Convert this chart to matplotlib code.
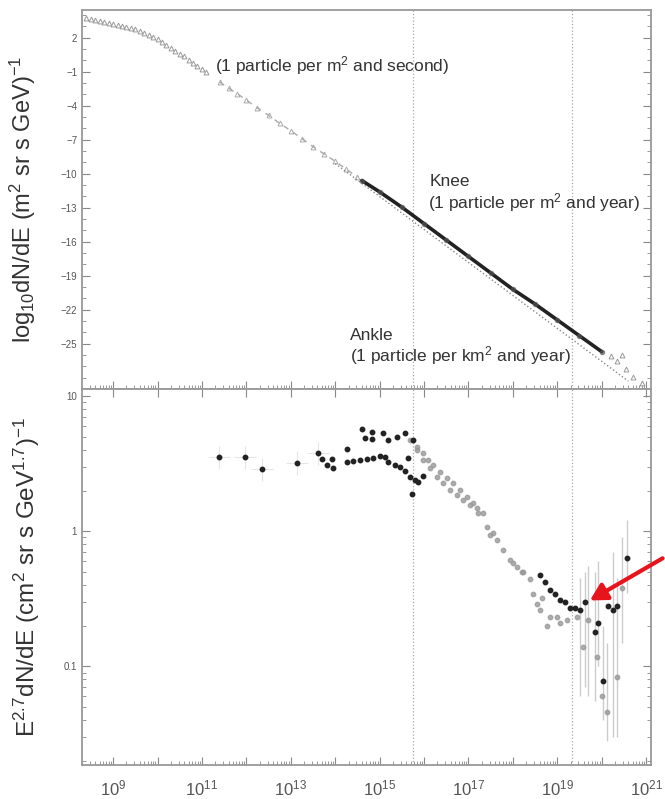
from matplotlib import pyplot as plt
from matplotlib.ticker import LogLocator, FixedLocator, NullFormatter, FuncFormatter
import numpy as np

plt.rcParams['font.family'] = ['Liberation Sans', 'DejaVu Sans']
plt.rcParams['mathtext.default'] = 'regular'

# ---- top panel: log10 flux vs log10 energy (eV) ----
low_logE = [8.4, 8.5, 8.6, 8.7, 8.8, 8.9, 9.0, 9.1, 9.2, 9.3, 9.4, 9.5, 9.6, 9.7,
            9.8, 9.9, 10.0, 10.1, 10.2, 10.3, 10.4, 10.5, 10.6, 10.7, 10.8,
            10.9, 11.0, 11.1]
low_flux = [3.75, 3.68, 3.6, 3.5, 3.42, 3.33, 3.22, 3.12, 3.02, 2.95, 2.9, 2.78,
            2.6, 2.45, 2.25, 2.05, 1.85, 1.6, 1.35, 1.1, 0.85, 0.6, 0.35, 0.08,
            -0.2, -0.48, -0.75, -1.05]

mid_logE = [11.4, 11.6, 11.8, 12.0, 12.25, 12.5, 12.75, 13.0, 13.25, 13.5,
            13.75, 14.0, 14.25, 14.5]
mid_flux = [-1.9, -2.45, -2.95, -3.5, -4.2, -4.85, -5.55, -6.2, -6.9, -7.6,
            -8.25, -8.9, -9.6, -10.3]

band_logE = [14.6, 15.0, 15.5, 16.0, 16.5, 17.0, 17.5, 18.0, 18.5, 19.0, 19.5, 20.0]
band_flux = [-10.6, -11.6, -12.95, -14.4, -15.85, -17.3, -18.75, -20.2, -21.5,
             -22.9, -24.3, -25.7]

tail_logE = [20.2, 20.35, 20.45, 20.55, 20.7, 20.9]
tail_flux = [-26.1, -26.5, -26.0, -27.2, -27.9, -28.5]

ref_logE = [14.0, 20.6]
ref_flux = [-9.1, -28.3]

# ---- bottom panel: E^2.7 dN/dE ----
dark_logE = [11.39, 11.97, 12.36, 13.14, 13.62, 13.71, 13.82, 13.96, 13.93,
             14.27, 14.27, 14.41, 14.56, 14.72, 14.86, 15.01, 15.13, 15.19,
             15.35, 15.46, 15.58, 15.69, 15.8, 15.87, 15.73, 15.98,
             14.61, 14.83, 14.68, 14.83, 15.08, 15.4, 15.58, 15.76, 15.64, 15.19,
             18.62, 18.73, 18.84, 18.95, 19.07, 19.18, 19.29, 19.41, 19.52,
             19.63, 19.92, 19.86, 20.15, 20.26, 20.35, 20.58, 20.04]
dark_val = [3.53, 3.53, 2.88, 3.19, 3.78, 3.42, 3.08, 2.93, 3.4,
            4.06, 3.25, 3.31, 3.35, 3.4, 3.5, 3.6, 3.53, 3.25,
            3.08, 2.98, 2.78, 2.51, 2.39, 2.32, 1.9, 2.56,
            5.7, 5.4, 4.9, 4.8, 5.3, 5.0, 5.3, 4.72, 3.5, 4.72,
            0.47, 0.42, 0.37, 0.34, 0.31, 0.30, 0.27, 0.27, 0.26,
            0.30, 0.21, 0.18, 0.28, 0.26, 0.28, 0.63, 0.078]

gray_logE = [15.85, 15.98, 16.1, 16.2, 16.36, 16.52, 16.66, 16.82, 16.97, 17.11,
             17.22, 15.69, 15.85, 15.98, 16.14, 16.3, 16.43, 16.59, 16.75, 16.88,
             17.04, 17.2, 17.33, 17.42, 17.56, 17.65, 17.78, 17.94, 18.1, 18.23,
             18.39, 17.49, 18.0, 18.21, 19.7, 20.46, 20.01, 19.9, 19.59, 20.13,
             20.35, 18.62, 18.84, 19.0, 18.77, 19.07, 19.22, 19.45, 18.55, 18.46,
             18.66]
gray_val = [4.2, 3.8, 3.35, 3.08, 2.73, 2.47, 2.27, 2.01, 1.8, 1.62,
            1.36, 4.72, 3.98, 3.35, 2.93, 2.51, 2.27, 2.01, 1.85, 1.7,
            1.56, 1.48, 1.36, 1.07, 0.97, 0.86, 0.72, 0.61, 0.54, 0.5,
            0.44, 0.93, 0.58, 0.5, 0.22, 0.38, 0.06, 0.117, 0.138, 0.046,
            0.083, 0.26, 0.23, 0.23, 0.2, 0.21, 0.22, 0.23, 0.29, 0.34,
            0.32]

# faint error crosses around the low-energy points
cross_logE = [11.39, 11.97, 12.36, 13.14, 13.62]
cross_val = [3.53, 3.53, 2.88, 3.19, 3.78]
cross_low = [2.9, 2.9, 2.35, 2.6, 3.1]
cross_high = [4.3, 4.3, 3.5, 3.9, 4.6]

# error bars on the highest energy points
err_logE = [19.52, 19.63, 19.7, 19.86, 19.92, 20.04, 20.13, 20.26, 20.35, 20.46, 20.58]
err_val = [0.26, 0.30, 0.22, 0.18, 0.21, 0.078, 0.046, 0.26, 0.083, 0.38, 0.63]
err_low = [0.06, 0.07, 0.06, 0.055, 0.1, 0.04, 0.028, 0.03, 0.03, 0.15, 0.35]
err_high = [0.45, 0.5, 0.55, 0.5, 0.6, 0.2, 0.15, 0.7, 0.45, 0.9, 1.2]

knee_logE = 15.76
ankle_logE = 19.34

xticks_exp = [9, 11, 13, 15, 17, 19, 21]

fig = plt.figure(figsize=(6.65, 7.99), dpi=100)
ax1 = fig.add_axes([0.1233, 0.5131, 0.8556, 0.4744])
ax2 = fig.add_axes([0.1233, 0.0426, 0.8556, 0.4705])

E = lambda lst: [10.0 ** v for v in lst]
frame_c = '#999999'
for ax in (ax1, ax2):
    ax.set_xscale('log')
    for s in ax.spines.values():
        s.set_color(frame_c)
        s.set_linewidth(1.3)
    ax.axvline(10 ** knee_logE, color='#aaaaaa', ls=':', lw=0.9)
    ax.axvline(10 ** ankle_logE, color='#aaaaaa', ls=':', lw=0.9)
    ax.xaxis.set_major_locator(FixedLocator([10.0 ** e for e in range(9, 22)]))
    ax.xaxis.set_minor_locator(LogLocator(base=10, subs=np.arange(2, 10), numticks=100))
    ax.tick_params(which='both', direction='in', color='#888888', labelcolor='#555555',
                   right=True)
    ax.tick_params(which='major', length=6)
    ax.tick_params(which='minor', length=3)

# top panel
ax1.plot(E(low_logE), low_flux, ls='none', marker='^', ms=3.5, mfc='none',
         mec='#999999', mew=0.7)
ax1.plot(E(mid_logE), mid_flux, ls='--', color='#aaaaaa', lw=1.0,
         marker='^', ms=3.5, mfc='none', mec='#aaaaaa', mew=0.7, dashes=(4, 4))
ax1.plot(E(ref_logE), ref_flux, ls=':', color='#888888', lw=1.0)
ax1.plot(E(band_logE), band_flux, color='#222222', lw=2.6, solid_capstyle='round')
ax1.plot(E(band_logE), band_flux, ls='none', marker='o', ms=3, color='#555555', alpha=0.6)
ax1.plot(E(tail_logE), tail_flux, ls='none', marker='^', ms=3.5, mfc='none',
         mec='#999999', mew=0.7)

ax1.set_ylim(-29, 4.45)
ax1.yaxis.set_major_locator(FixedLocator(np.arange(-25, 3, 3)))
ax1.yaxis.set_minor_locator(FixedLocator(np.arange(-28, 5, 1)))
ax1.tick_params(axis='y', labelsize=7)
ax1.tick_params(axis='x', top=False, labelbottom=False)
ax1.set_ylabel('log$_{10}$dN/dE (m$^2$ sr s GeV)$^{-1}$', fontsize=17, color='#333333')
ax1.yaxis.set_label_coords(-0.078, 0.5)

txt = dict(fontsize=12.5, color='#333333', va='center', ha='left')
ax1.text(10 ** 11.3, -0.41, '(1 particle per m$^2$ and second)', **txt)
ax1.text(10 ** 16.12, -10.67, 'Knee', **txt)
ax1.text(10 ** 16.09, -12.5, '(1 particle per m$^2$ and year)', **txt)
ax1.text(10 ** 14.34, -24.3, 'Ankle', **txt)
ax1.text(10 ** 14.34, -26.05, '(1 particle per km$^2$ and year)', **txt)

# bottom panel
ax2.set_yscale('log')
cx = np.array(E(cross_logE))
ax2.errorbar(cx, cross_val,
             xerr=[cx - cx / 10 ** 0.25, cx * 10 ** 0.25 - cx],
             yerr=[np.array(cross_val) - np.array(cross_low),
                   np.array(cross_high) - np.array(cross_val)],
             fmt='none', ecolor='#e6e6e6', elinewidth=0.8, ls=':', zorder=1)
ax2.errorbar(E(err_logE), err_val,
             yerr=[np.array(err_val) - np.array(err_low), np.array(err_high) - np.array(err_val)],
             fmt='none', ecolor='#cccccc', elinewidth=1.0, zorder=1)
ax2.plot(E(gray_logE), gray_val, ls='none', marker='o', ms=3.2, color='#999999',
         alpha=0.8, zorder=2)
ax2.plot(E(dark_logE), dark_val, ls='none', marker='o', ms=3.2, color='#222222',
         zorder=3)
ax2.set_ylim(10 ** -1.73, 10 ** 1.052)
ax2.yaxis.set_major_locator(FixedLocator([0.1, 1, 10]))
ax2.yaxis.set_major_formatter(FuncFormatter(lambda v, p: '%g' % v))
ax2.yaxis.set_minor_locator(LogLocator(base=10, subs=np.arange(2, 10), numticks=100))
ax2.yaxis.set_minor_formatter(NullFormatter())
ax2.tick_params(axis='y', labelsize=7)
ax2.tick_params(axis='x', top=True, labelsize=12, pad=10)
ax2.xaxis.set_major_formatter(FuncFormatter(
    lambda v, p: '$10^{%d}$' % round(np.log10(v)) if round(np.log10(v)) in xticks_exp else ''))
ax2.set_ylabel('E$^{2.7}$dN/dE (cm$^2$ sr s GeV$^{1.7}$)$^{-1}$', fontsize=17.5,
               color='#333333')
ax2.yaxis.set_label_coords(-0.07, 0.5)

for ax in (ax1, ax2):
    ax.set_xlim(10 ** 8.3, 10 ** 21.11)

ax2.annotate('', xy=(10 ** 19.68, 0.30), xycoords='data',
             xytext=(1.0, 0.303), textcoords='figure fraction',
             arrowprops=dict(arrowstyle='-|>,head_width=0.55,head_length=1.0',
                             color='#e8141c', lw=3),
             annotation_clip=False)

plt.savefig('out.png', dpi=100)
